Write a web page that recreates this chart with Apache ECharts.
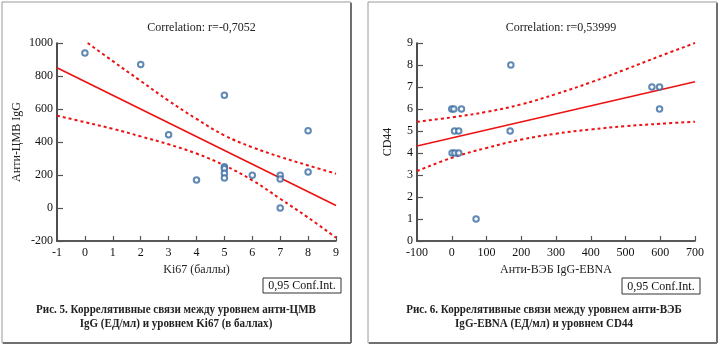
<!DOCTYPE html>
<html>
<head>
<meta charset="utf-8">
<script src="https://cdn.jsdelivr.net/npm/echarts@6/dist/echarts.min.js"></script>
<style>
html,body{margin:0;padding:0;background:#fff;}
#chart{width:720px;height:347px;}
</style>
</head>
<body>
<div id="chart"></div>
<script>
// ---- Left chart data (Ki67 vs anti-CMV IgG) ----
const leftTitle = 'Correlation: r=-0,7052';
const leftXName = 'Ki67 (баллы)';
const leftYName = 'Анти-ЦМВ IgG';
const leftCaption = ['Рис. 5. Коррелятивные связи между уровнем анти-ЦМВ', 'IgG (ЕД/мл) и уровнем Ki67 (в баллах)'];
const leftPoints = [[0,940],[2,870],[3,444],[4,170],[5,684],[5,250],[5,238],[5,210],[5,182],[6,198],[7,198],[7,176],[7,0],[8,468],[8,218]];
const leftFit = [[-1,850],[9,15]];
const leftUpper = [[0.1,1000],[1,890],[2,770],[3,650],[4,540],[5,440],[6,368],[7,310],[8,258],[9,208]];
const leftLower = [[-1,560],[0,520],[1,480],[2,434],[3,386],[4,330],[5,258],[6,168],[7,56],[8,-58],[9,-180]];
const leftXTicks = {min:-1, max:9, interval:1};
const leftYTicks = {min:-200, max:1000, interval:200};

// ---- Right chart data (anti-EBV IgG-EBNA vs CD44) ----
const rightTitle = 'Correlation: r=0,53999';
const rightXName = 'Анти-ВЭБ IgG-EBNA';
const rightYName = 'CD44';
const rightCaption = ['Рис. 6. Коррелятивные связи между уровнем анти-ВЭБ', 'IgG-EBNA (ЕД/мл) и уровнем CD44'];
const rightPoints = [[0,6],[6,6],[28,6],[8,5],[20,5],[168,5],[170,8],[1,4],[9,4],[20,4],[70,1],[576,7],[598,7],[598,6]];
const rightFit = [[-100,4.32],[700,7.24]];
const rightUpper = [[-100,5.42],[0,5.62],[100,5.87],[200,6.21],[300,6.68],[400,7.21],[500,7.80],[600,8.41],[700,9.0]];
const rightLower = [[-100,3.18],[0,3.78],[100,4.23],[200,4.61],[300,4.88],[400,5.07],[500,5.22],[600,5.33],[700,5.42]];
const rightXTicks = {min:-100, max:700, interval:100};
const rightYTicks = {min:0, max:9, interval:1};

const legendText = '0,95 Conf.Int.';

const FONT = '"Liberation Serif", "DejaVu Serif", serif';
const RED = '#ee1111';
const BLUE = '#3a6ca3';
const AX = '#222';

const chart = echarts.init(document.getElementById('chart'), null, {renderer:'canvas'});

function plain(v){ return String(v); }

function xAxis(idx, t, name){
  return {
    type:'value', gridIndex:idx, min:t.min, max:t.max, interval:t.interval,
    name:name, nameLocation:'middle', nameGap:21,
    nameTextStyle:{fontFamily:FONT, fontSize:12, color:'#222'},
    axisLine:{show:true, onZero:false, lineStyle:{color:AX, width:1.6}},
    axisTick:{show:true, inside:true, length:5, lineStyle:{color:'#555', width:1.2}},
    axisLabel:{fontFamily:FONT, fontSize:12, color:'#111', margin:6, formatter:plain},
    splitLine:{show:false}
  };
}
function yAxis(idx, t, name, gap){
  return {
    type:'value', gridIndex:idx, min:t.min, max:t.max, interval:t.interval,
    name:name, nameLocation:'middle', nameGap:gap, nameRotate:90,
    nameTextStyle:{fontFamily:FONT, fontSize:12, color:'#222'},
    axisLine:{show:true, onZero:false, lineStyle:{color:AX, width:1.6}},
    axisTick:{show:true, inside:true, length:6, lineStyle:{color:'#555', width:1.2}},
    axisLabel:{fontFamily:FONT, fontSize:12, color:'#111', margin:4, formatter:plain},
    splitLine:{show:false}
  };
}
function lineSeries(idx, data, dashed){
  return {
    type:'line', xAxisIndex:idx, yAxisIndex:idx, data:data,
    name: dashed ? legendText : 'fit',
    showSymbol:false, symbol:'none', smooth: dashed ? 0.4 : false, clip:true,
    lineStyle:{color:RED, width: dashed ? 2 : 1.6, type: dashed ? [3,3] : 'solid'},
    silent:true, z:2
  };
}
function scatterSeries(idx, data){
  return {
    type:'scatter', xAxisIndex:idx, yAxisIndex:idx, data:data,
    symbol:'emptyCircle', symbolSize:5.5,
    itemStyle:{color:BLUE, borderColor:BLUE, borderWidth:1.3},
    z:5
  };
}
function panel(x, y, w, h){
  return {
    type:'group', children:[
      {type:'rect', shape:{x:x, y:y, width:w, height:h}, style:{fill:'#fff', stroke:'#9a9a9a', lineWidth:1}, z:-10},
      {type:'line', shape:{x1:x+w, y1:y+1, x2:x+w, y2:y+h}, style:{stroke:'#707070', lineWidth:2}, z:-9},
      {type:'line', shape:{x1:x+1, y1:y+h, x2:x+w, y2:y+h}, style:{stroke:'#707070', lineWidth:2}, z:-9}
    ]
  };
}
function legendBox(x, y, w, h){
  return {
    type:'group', children:[
      {type:'rect', shape:{x:x, y:y, width:w, height:h}, style:{fill:'#fff', stroke:'#333', lineWidth:1}},
      {type:'text', x:x+w/2, y:y+h/2+0.5, style:{text:legendText, font:'12px ' + FONT, fill:'#111', align:'center', verticalAlign:'middle'}}
    ]
  };
}
function caption(cx, lines){
  return {
    type:'text', x:cx, y:303, scaleX:0.92,
    style:{text:lines.join('\n'), font:'bold 12px ' + FONT, fill:'#222', align:'center', verticalAlign:'top', lineHeight:14}
  };
}

const option = {
  backgroundColor:'#fff',
  animation:false,
  title:[
    {text:leftTitle, left:196.5, top:17, textAlign:'center', textStyle:{fontFamily:FONT, fontSize:12, fontWeight:'normal', color:'#222'}},
    {text:rightTitle, left:556, top:17, textAlign:'center', textStyle:{fontFamily:FONT, fontSize:12, fontWeight:'normal', color:'#222'}}
  ],
  grid:[
    {left:57, top:43, width:279, height:198},
    {left:417, top:43, width:278, height:198}
  ],
  xAxis:[xAxis(0, leftXTicks, leftXName), xAxis(1, rightXTicks, rightXName)],
  yAxis:[yAxis(0, leftYTicks, leftYName, 34), yAxis(1, rightYTicks, rightYName, 23)],
  series:[
    lineSeries(0, leftUpper, true),
    lineSeries(0, leftLower, true),
    lineSeries(0, leftFit, false),
    scatterSeries(0, leftPoints),
    lineSeries(1, rightUpper, true),
    lineSeries(1, rightLower, true),
    lineSeries(1, rightFit, false),
    scatterSeries(1, rightPoints)
  ],
  graphic:[
    panel(2, 2, 349, 341),
    panel(368, 2, 349, 341),
    legendBox(263, 278, 78, 15),
    legendBox(622, 278, 78, 16),
    caption(176, leftCaption),
    caption(544, rightCaption)
  ]
};
chart.setOption(option);
</script>
</body>
</html>
